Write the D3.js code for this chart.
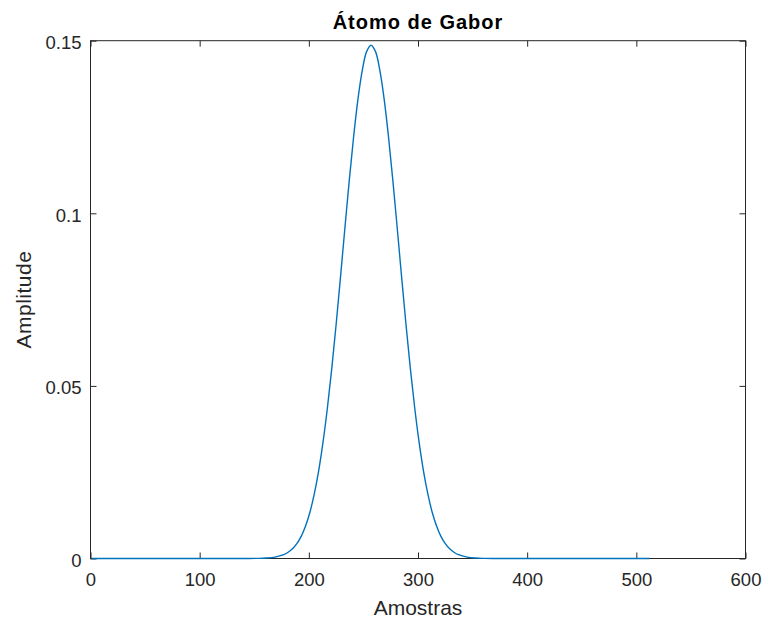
<!DOCTYPE html>
<html>
<head>
<meta charset="utf-8">
<script src="https://cdn.jsdelivr.net/npm/d3@7"></script>
<style>
  html, body { margin: 0; padding: 0; background: #fff; }
  svg text { font-family: "Liberation Sans", Arial, Helvetica, sans-serif; }
</style>
</head>
<body>
<svg id="chart" width="763" height="620"></svg>
<script>
// ---- data ----
const title = "Átomo de Gabor";
const xLabel = "Amostras";
const yLabel = "Amplitude";
const xTicks = [0, 100, 200, 300, 400, 500, 600];
const yTicks = [0, 0.05, 0.1, 0.15];
const xTickLabels = ["0", "100", "200", "300", "400", "500", "600"];
const yTickLabels = ["0", "0.05", "0.1", "0.15"];
const samples = [1, 145, 153, 161, 169, 177, 181, 185, 189, 193, 197, 201, 205, 209, 213, 217, 221,
                 225, 229, 233, 237, 241, 245, 249, 253, 257, 261, 265, 269, 273, 277, 281, 285,
                 289, 293, 297, 301, 305, 309, 313, 317, 321, 325, 329, 333, 337, 345, 353, 361, 369, 512];
const amplitude = [0, 0.00001, 0.00004, 0.00013, 0.00039, 0.0011, 0.0018, 0.0028, 0.0043, 0.0064,
                   0.0094, 0.0134, 0.0187, 0.0254, 0.0337, 0.0436, 0.0550, 0.0678, 0.0815, 0.0956,
                   0.1094, 0.1221, 0.1331, 0.1415, 0.1469, 0.1487, 0.1469, 0.1415, 0.1331, 0.1221,
                   0.1094, 0.0956, 0.0815, 0.0678, 0.0550, 0.0436, 0.0337, 0.0254, 0.0187, 0.0134,
                   0.0094, 0.0064, 0.0043, 0.0028, 0.0018, 0.0011, 0.00039, 0.00013, 0.00004, 0.00001, 0];

// ---- layout ----
const svg = d3.select("#chart");
const mLeft = 90.5, mRight = 745.5, mTop = 40.7, mBottom = 558.5;
const axisColor = "#262626";

const x = d3.scaleLinear().domain([0, 600]).range([mLeft, mRight]);
const y = d3.scaleLinear().domain([0, 0.15]).range([mBottom, mTop]);

const tickLen = 6;
const fmtX = (d, i) => xTickLabels[i];
const fmtY = (d, i) => yTickLabels[i];

const gB = svg.append("g").attr("transform", `translate(0,${mBottom})`)
  .call(d3.axisBottom(x).tickValues(xTicks).tickFormat(fmtX).tickSizeInner(-tickLen).tickSizeOuter(0).tickPadding(14));
const gT = svg.append("g").attr("transform", `translate(0,${mTop})`)
  .call(d3.axisTop(x).tickValues(xTicks).tickFormat("").tickSizeInner(-tickLen).tickSizeOuter(0));
const gL = svg.append("g").attr("transform", `translate(${mLeft},0)`)
  .call(d3.axisLeft(y).tickValues(yTicks).tickFormat(fmtY).tickSizeInner(-tickLen).tickSizeOuter(0).tickPadding(9));
const gR = svg.append("g").attr("transform", `translate(${mRight},0)`)
  .call(d3.axisRight(y).tickValues(yTicks).tickFormat("").tickSizeInner(-tickLen).tickSizeOuter(0));

[gB, gT, gL, gR].forEach(g => {
  g.select(".domain").remove();
  g.selectAll(".tick line").attr("stroke", axisColor).attr("stroke-width", 1);
  g.selectAll(".tick text").attr("fill", axisColor).style("font-size", "18.5px");
});
gL.selectAll(".tick text").attr("dy", "0.42em");

svg.append("rect")
  .attr("x", mLeft).attr("y", mTop)
  .attr("width", mRight - mLeft).attr("height", mBottom - mTop)
  .attr("fill", "none").attr("stroke", axisColor).attr("stroke-width", 1);

const pts = samples.map((s, i) => [s, amplitude[i]]);
const line = d3.line().x(d => x(d[0])).y(d => y(d[1])).curve(d3.curveCatmullRom.alpha(0.5));
svg.append("path")
  .datum(pts)
  .attr("d", line)
  .attr("fill", "none")
  .attr("stroke", "#0072BD")
  .attr("stroke-width", 1.4);

svg.append("text")
  .attr("x", (mLeft + mRight) / 2).attr("y", 29)
  .attr("text-anchor", "middle")
  .attr("fill", "#000")
  .style("font-size", "20px").style("font-weight", "bold")
  .style("letter-spacing", "1px")
  .text(title);

svg.append("text")
  .attr("x", (mLeft + mRight) / 2).attr("y", 615)
  .attr("text-anchor", "middle")
  .attr("fill", axisColor)
  .style("font-size", "21px")
  .text(xLabel);

svg.append("text")
  .attr("transform", `translate(31,${(mTop + mBottom) / 2}) rotate(-90)`)
  .attr("text-anchor", "middle")
  .attr("fill", axisColor)
  .style("font-size", "21px")
  .style("letter-spacing", "0.5px")
  .text(yLabel);
</script>
</body>
</html>
